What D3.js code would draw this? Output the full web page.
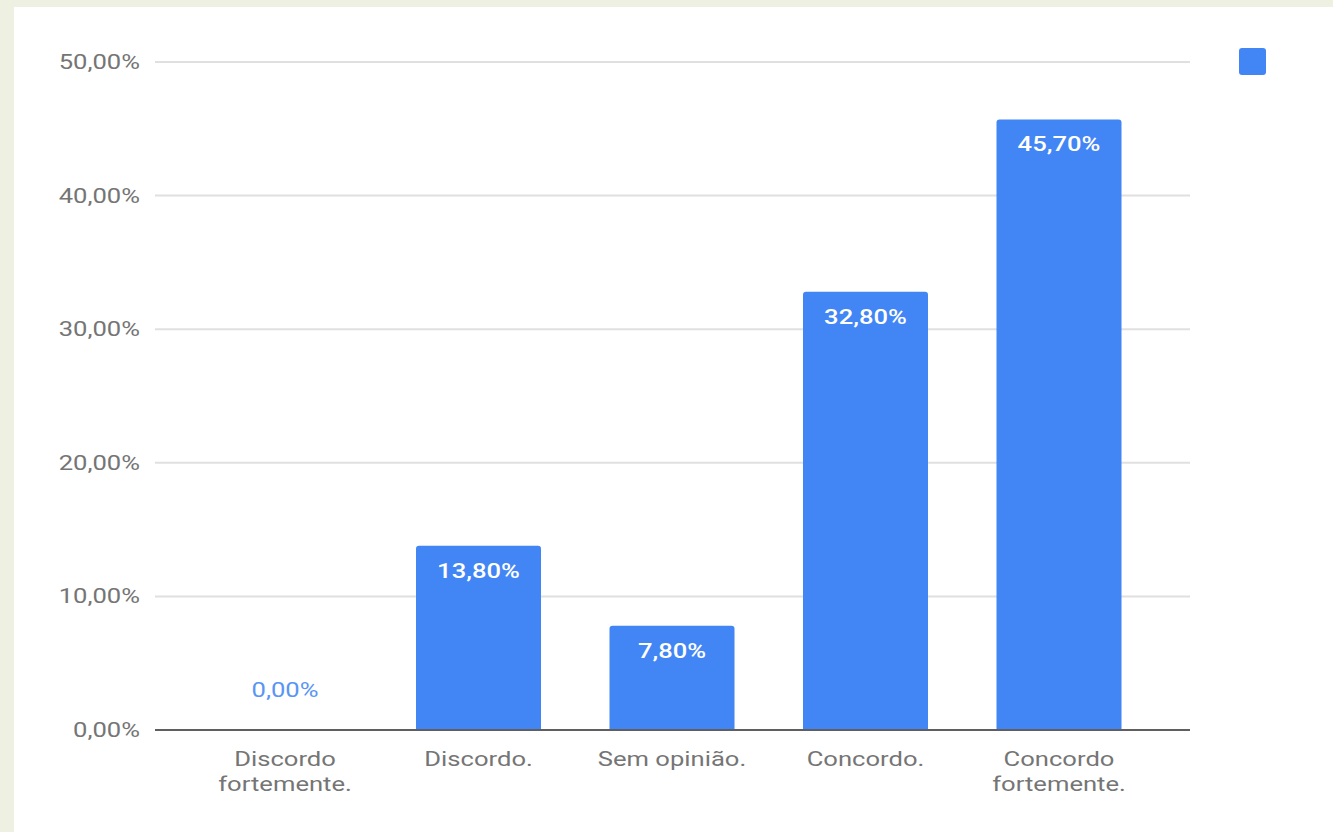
<!DOCTYPE html>
<html>
<head>
<meta charset="utf-8">
<script src="https://cdn.jsdelivr.net/npm/d3@7"></script>
<style>
  html, body { margin: 0; padding: 0; background: #eef1e2; }
  svg { display: block; }
</style>
</head>
<body>
<svg id="chart" width="1333" height="832"></svg>
<script>
const categories = [["Discordo", "fortemente."], ["Discordo."], ["Sem opinião."], ["Concordo."], ["Concordo", "fortemente."]];
const values = [0.0, 13.8, 7.8, 32.8, 45.7];
const yTicks = [0, 10, 20, 30, 40, 50];

const width = 1333, height = 832;
const stretch = 1.28; // the source picture is stretched horizontally
const fmt = (v) => v.toFixed(2).replace(".", ",") + "%";

const svg = d3.select("#chart");

// slide background + white panel
svg.append("rect").attr("width", width).attr("height", height).attr("fill", "#eef1e2");
svg.append("rect").attr("x", 14).attr("y", 7).attr("width", width - 14).attr("height", height - 7).attr("fill", "#ffffff");

const chart = svg.append("g").attr("font-family", "Roboto, sans-serif");

const y = d3.scaleLinear().domain([0, 50]).range([730, 62]);
const x = d3.scaleBand()
  .domain(categories.map((d, i) => i))
  .range([188.25, 1155.75])
  .paddingInner(0.354)
  .paddingOuter(0.177);

// gridlines
chart.append("g")
  .selectAll("line")
  .data(yTicks.slice(1))
  .join("line")
  .attr("x1", 155)
  .attr("x2", 1190)
  .attr("y1", (d) => y(d))
  .attr("y2", (d) => y(d))
  .attr("stroke", "#e0e0e0")
  .attr("stroke-width", 2);

// y tick labels
chart.append("g")
  .selectAll("text")
  .data(yTicks)
  .join("text")
  .attr("transform", (d) => `translate(140,${y(d)}) scale(${stretch},1)`)
  .attr("dy", "0.35em")
  .attr("text-anchor", "end")
  .attr("font-size", 20)
  .attr("fill", "#757575")
  .text((d) => fmt(d));

// bars with slightly rounded top corners
const r = 3;
chart.append("g")
  .selectAll("path")
  .data(values)
  .join("path")
  .attr("d", (d, i) => {
    const x0 = x(i), x1 = x(i) + x.bandwidth(), y0 = y(0), y1 = y(d);
    if (d <= 0) return "";
    return `M${x0},${y0}V${y1 + r}Q${x0},${y1} ${x0 + r},${y1}H${x1 - r}Q${x1},${y1} ${x1},${y1 + r}V${y0}Z`;
  })
  .attr("fill", "#4285f4");

// zero axis
chart.append("line")
  .attr("x1", 155)
  .attr("x2", 1190)
  .attr("y1", y(0))
  .attr("y2", y(0))
  .attr("stroke", "#5f5f5f")
  .attr("stroke-width", 2);

// value labels
chart.append("g")
  .selectAll("text")
  .data(values)
  .join("text")
  .attr("transform", (d, i) =>
    `translate(${x(i) + x.bandwidth() / 2},${d > 3 ? y(d) + 32 : y(d) - 33}) scale(${stretch},1)`)
  .attr("text-anchor", "middle")
  .attr("font-size", 20)
  .attr("font-weight", (d) => (d > 3 ? 500 : 400))
  .attr("fill", (d) => (d > 3 ? "#ffffff" : "#5a95f5"))
  .text((d) => fmt(d));

// x category labels
chart.append("g")
  .selectAll("text")
  .data(categories)
  .join("text")
  .attr("transform", (d, i) => `translate(${x(i) + x.bandwidth() / 2},766) scale(${stretch},1)`)
  .attr("text-anchor", "middle")
  .attr("font-size", 20)
  .attr("fill", "#757575")
  .selectAll("tspan")
  .data((d) => d)
  .join("tspan")
  .attr("x", 0)
  .attr("dy", (d, i) => (i === 0 ? 0 : 25))
  .text((d) => d);

// legend swatch (no label)
chart.append("rect")
  .attr("x", 1239)
  .attr("y", 48)
  .attr("width", 27)
  .attr("height", 27)
  .attr("rx", 3)
  .attr("fill", "#4285f4");
</script>
</body>
</html>
